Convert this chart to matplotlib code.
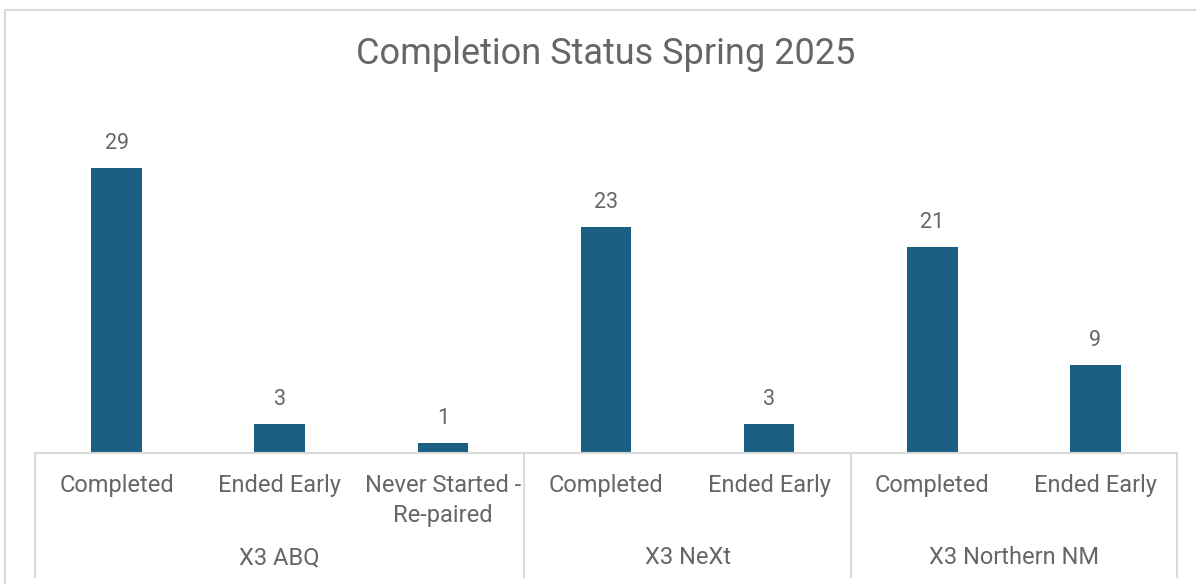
import matplotlib.pyplot as plt
import matplotlib.transforms as mtransforms
from matplotlib.patches import Rectangle

plt.rcParams['font.family'] = ['Roboto', 'DejaVu Sans']

# data
categories = ["Completed", "Ended Early", "Never Started -\nRe-paired",
              "Completed", "Ended Early",
              "Completed", "Ended Early"]
values = [29, 3, 1, 23, 3, 21, 9]
groups = ["X3 ABQ", "X3 NeXt", "X3 Northern NM"]
group_sizes = [3, 2, 2]

bar_color = '#1B6082'
text_color = '#666666'
line_color = '#D9D9D9'

W, H = 1196, 584
fig = plt.figure(figsize=(W / 100, H / 100), dpi=100)

# chart border (bottom and right edge run off the image)
fig.patches.append(Rectangle((5 / W, -0.1), 1.2, (H - 10) / H + 0.1,
                             transform=fig.transFigure, fill=False,
                             edgecolor=line_color, linewidth=1.5))

ax_left, ax_right = 35, 1177
ax_bottom, ax_top = 453, 99
ax = fig.add_axes([ax_left / W, (H - ax_bottom) / H,
                   (ax_right - ax_left) / W, (ax_bottom - ax_top) / H])

x = list(range(len(values)))
bars = ax.bar(x, values, width=0.31, color=bar_color)
ax.set_xlim(-0.5, len(values) - 0.5)
ax.set_ylim(0, 36)

for xi, v in zip(x, values):
    ax.annotate(str(v), (xi, v), xytext=(0, 10), textcoords='offset points',
                ha='center', va='bottom', fontsize=15.5, color=text_color)

for s in ax.spines.values():
    s.set_visible(False)
ax.set_xticks([])
ax.set_yticks([])

trans = mtransforms.blended_transform_factory(ax.transData, ax.transAxes)
ax_h = ax_bottom - ax_top

def ay(py):
    # pixel row in image -> axes fraction
    return (ax_bottom - py) / ax_h

ax.plot([-0.5, len(values) - 0.5], [0, 0], transform=trans,
        color=line_color, linewidth=1.5, clip_on=False)

for xi, lab in zip(x, categories):
    ax.text(xi, ay(474), lab, transform=trans, ha='center', va='top',
            fontsize=17, color=text_color, linespacing=1.4)

edge = -0.5
bounds = [edge]
for g, n in zip(groups, group_sizes):
    mid = edge + n / 2
    ax.text(mid, ay(558), g, transform=trans, ha='center', va='center',
            fontsize=17, color=text_color)
    edge += n
    bounds.append(edge)

for b in bounds:
    ax.plot([b, b], [0, ay(577)], transform=trans, color=line_color,
            linewidth=1.5, clip_on=False)

fig.text(606 / W, (H - 54) / H, "Completion Status Spring 2025",
         ha='center', va='center', fontsize=26, color=text_color)

fig.savefig('out.png', dpi=100)
